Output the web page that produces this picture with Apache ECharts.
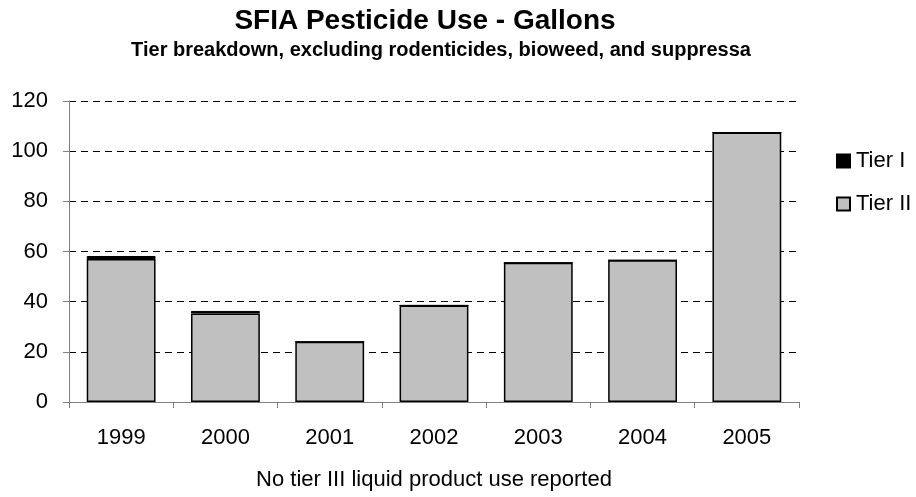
<!DOCTYPE html>
<html>
<head>
<meta charset="utf-8">
<title>SFIA Pesticide Use - Gallons</title>
<script src="https://cdn.jsdelivr.net/npm/echarts@6/dist/echarts.min.js"></script>
<style>
  html, body { margin: 0; padding: 0; background: #fff; }
  #chart { width: 916px; height: 497px; }
</style>
</head>
<body>
<div id="chart"></div>
<script>
const years = ["1999", "2000", "2001", "2002", "2003", "2004", "2005"];
const tierOne = [1.2, 1.0, 0, 0, 0, 0, 0];
const tierTwo = [57, 35.3, 24, 38.5, 55.5, 56.5, 107.4];
const yTicks = { min: 0, max: 120, interval: 20 };

const font = "'Liberation Sans', Arial, sans-serif";
const chart = echarts.init(document.getElementById("chart"));

chart.setOption({
  animation: false,
  textStyle: { fontFamily: font },
  title: [
    {
      text: "SFIA Pesticide Use - Gallons",
      left: 420,
      top: 2,
      textAlign: "center",
      textStyle: { fontSize: 28, fontWeight: "bold", color: "#000", fontFamily: font }
    },
    {
      text: "Tier breakdown, excluding rodenticides, bioweed, and suppressa",
      left: 436,
      top: 35,
      textAlign: "center",
      textStyle: { fontSize: 20, fontWeight: "bold", color: "#000", fontFamily: font }
    }
  ],
  legend: {
    orient: "vertical",
    left: 831,
    top: 145,
    itemWidth: 13,
    itemHeight: 13,
    itemGap: 21,
    icon: "rect",
    textStyle: { fontSize: 22, color: "#000", fontFamily: font, padding: [0, 0, 0, 1] },
    data: ["Tier I", "Tier II"]
  },
  grid: {
    left: 69,
    right: 117,
    top: 101,
    bottom: 95,
    containLabel: false,
    outerBoundsMode: "none"
  },
  xAxis: {
    type: "category",
    data: years,
    name: "No tier III liquid product use reported",
    nameLocation: "middle",
    nameGap: 67,
    nameTextStyle: { fontSize: 22, color: "#000", fontFamily: font },
    axisLine: { lineStyle: { color: "#808080", width: 1 } },
    axisTick: { show: true, length: 6, lineStyle: { color: "#808080" } },
    axisLabel: { margin: 25, fontSize: 22, color: "#000", fontFamily: font }
  },
  yAxis: {
    type: "value",
    min: yTicks.min,
    max: yTicks.max,
    interval: yTicks.interval,
    axisLine: { show: true, lineStyle: { color: "#808080", width: 1 } },
    axisTick: { show: true, length: 6, lineStyle: { color: "#808080" } },
    axisLabel: { margin: 21, fontSize: 22, color: "#000", fontFamily: font },
    splitLine: {
      show: true,
      lineStyle: { color: "#000", width: 1, type: [7, 5] }
    }
  },
  series: [
    {
      name: "Tier II",
      type: "bar",
      stack: "tier",
      barCategoryGap: "34%",
      itemStyle: { color: "#c0c0c0", borderColor: "#000", borderWidth: 1.5 },
      data: tierTwo
    },
    {
      name: "Tier I",
      type: "bar",
      stack: "tier",
      itemStyle: { color: "#000", borderColor: "#000", borderWidth: 1 },
      data: tierOne
    }
  ]
});
</script>
</body>
</html>
